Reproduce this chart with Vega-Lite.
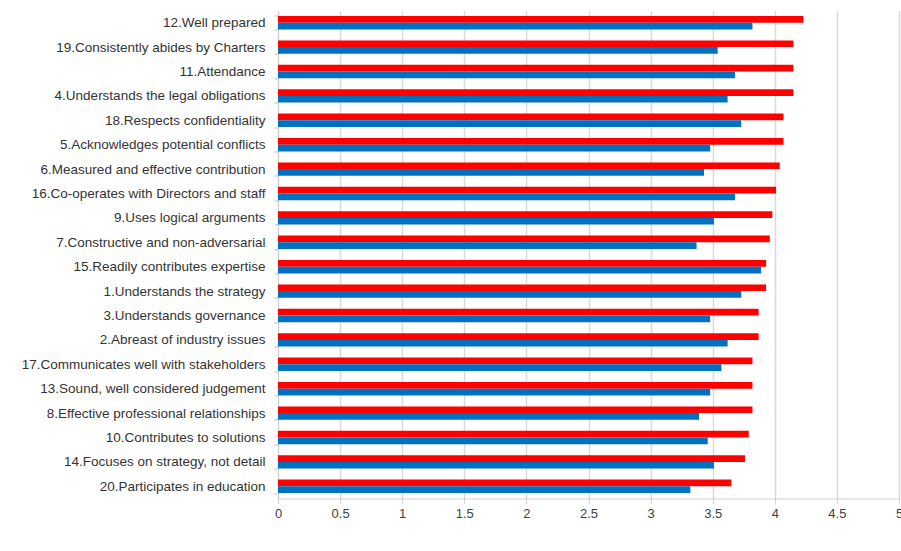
{
  "$schema": "https://vega.github.io/schema/vega-lite/v6.json",
  "width": 621,
  "height": 488,
  "autosize": "none",
  "padding": {"left": 278, "top": 10.5, "right": 2, "bottom": 52.5},
  "background": "#ffffff",
  "config": {
    "view": {"stroke": null},
    "font": "Liberation Sans"
  },
  "data": {
    "values": [
      {"item": "12.Well prepared", "series": "Series 1", "value": 4.23},
      {"item": "12.Well prepared", "series": "Series 2", "value": 3.82},
      {"item": "19.Consistently abides by Charters", "series": "Series 1", "value": 4.15},
      {"item": "19.Consistently abides by Charters", "series": "Series 2", "value": 3.54},
      {"item": "11.Attendance", "series": "Series 1", "value": 4.15},
      {"item": "11.Attendance", "series": "Series 2", "value": 3.68},
      {"item": "4.Understands the legal obligations", "series": "Series 1", "value": 4.15},
      {"item": "4.Understands the legal obligations", "series": "Series 2", "value": 3.62},
      {"item": "18.Respects confidentiality", "series": "Series 1", "value": 4.07},
      {"item": "18.Respects confidentiality", "series": "Series 2", "value": 3.73},
      {"item": "5.Acknowledges potential conflicts", "series": "Series 1", "value": 4.07},
      {"item": "5.Acknowledges potential conflicts", "series": "Series 2", "value": 3.48},
      {"item": "6.Measured and effective contribution", "series": "Series 1", "value": 4.04},
      {"item": "6.Measured and effective contribution", "series": "Series 2", "value": 3.43},
      {"item": "16.Co-operates with Directors and staff", "series": "Series 1", "value": 4.01},
      {"item": "16.Co-operates with Directors and staff", "series": "Series 2", "value": 3.68},
      {"item": "9.Uses logical arguments", "series": "Series 1", "value": 3.98},
      {"item": "9.Uses logical arguments", "series": "Series 2", "value": 3.51},
      {"item": "7.Constructive and non-adversarial", "series": "Series 1", "value": 3.96},
      {"item": "7.Constructive and non-adversarial", "series": "Series 2", "value": 3.37},
      {"item": "15.Readily contributes expertise", "series": "Series 1", "value": 3.93},
      {"item": "15.Readily contributes expertise", "series": "Series 2", "value": 3.89},
      {"item": "1.Understands the strategy", "series": "Series 1", "value": 3.93},
      {"item": "1.Understands the strategy", "series": "Series 2", "value": 3.73},
      {"item": "3.Understands governance", "series": "Series 1", "value": 3.87},
      {"item": "3.Understands governance", "series": "Series 2", "value": 3.48},
      {"item": "2.Abreast of industry issues", "series": "Series 1", "value": 3.87},
      {"item": "2.Abreast of industry issues", "series": "Series 2", "value": 3.62},
      {"item": "17.Communicates well with stakeholders", "series": "Series 1", "value": 3.82},
      {"item": "17.Communicates well with stakeholders", "series": "Series 2", "value": 3.57},
      {"item": "13.Sound, well considered judgement", "series": "Series 1", "value": 3.82},
      {"item": "13.Sound, well considered judgement", "series": "Series 2", "value": 3.48},
      {"item": "8.Effective professional relationships", "series": "Series 1", "value": 3.82},
      {"item": "8.Effective professional relationships", "series": "Series 2", "value": 3.39},
      {"item": "10.Contributes to solutions", "series": "Series 1", "value": 3.79},
      {"item": "10.Contributes to solutions", "series": "Series 2", "value": 3.46},
      {"item": "14.Focuses on strategy, not detail", "series": "Series 1", "value": 3.76},
      {"item": "14.Focuses on strategy, not detail", "series": "Series 2", "value": 3.51},
      {"item": "20.Participates in education", "series": "Series 1", "value": 3.65},
      {"item": "20.Participates in education", "series": "Series 2", "value": 3.32}
    ]
  },
  "mark": {"type": "bar"},
  "encoding": {
    "y": {
      "field": "item",
      "type": "nominal",
      "sort": null,
      "scale": {"paddingInner": 0.45, "paddingOuter": 0.225},
      "axis": {
        "title": null,
        "tickBand": "extent",
        "tickSize": 4,
        "tickColor": "#bfbfbf",
        "domainColor": "#d0d0d0",
        "labelPadding": 9,
        "labelFontSize": 13.5,
        "labelColor": "#333333",
        "labelLimit": 400,
        "grid": false
      }
    },
    "yOffset": {
      "field": "series",
      "type": "nominal",
      "sort": ["Series 1", "Series 2"],
      "scale": {"paddingInner": 0, "paddingOuter": 0}
    },
    "x": {
      "field": "value",
      "type": "quantitative",
      "scale": {"domain": [0, 5], "nice": false},
      "axis": {
        "title": null,
        "values": [0, 0.5, 1, 1.5, 2, 2.5, 3, 3.5, 4, 4.5, 5],
        "format": "~g",
        "grid": true,
        "gridColor": "#d9d9d9",
        "gridWidth": 1.5,
        "domainColor": "#d0d0d0",
        "tickColor": "#d0d0d0",
        "tickSize": 5,
        "labelPadding": 4,
        "labelFontSize": 13,
        "labelColor": "#404040",
        "labelFlush": false
      }
    },
    "color": {
      "field": "series",
      "type": "nominal",
      "scale": {"domain": ["Series 1", "Series 2"], "range": ["#ff0000", "#0070c0"]},
      "legend": null
    }
  }
}
